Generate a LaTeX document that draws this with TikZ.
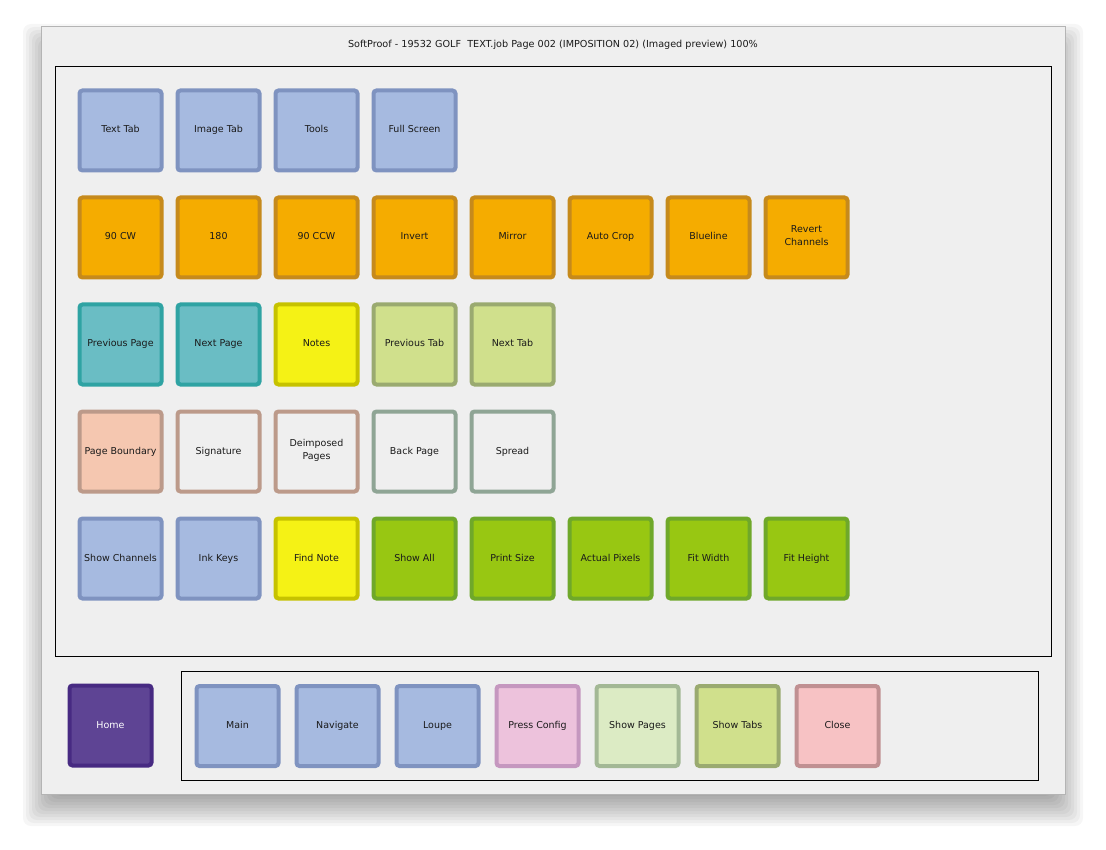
\documentclass[tikz,border=0pt]{standalone}
\usepackage{fontspec}
\setmainfont{DejaVu Sans}

\definecolor{txt}{HTML}{1A1A1A}
\definecolor{winfill}{HTML}{EFEFEF}
\definecolor{winline}{HTML}{B4B4B4}
\definecolor{bluefill}{HTML}{A6BAE0}
\definecolor{blueline}{HTML}{7F93C0}
\definecolor{orangefill}{HTML}{F5AC00}
\definecolor{orangeline}{HTML}{C68A1C}
\definecolor{tealfill}{HTML}{6ABDC4}
\definecolor{tealline}{HTML}{2FA3A3}
\definecolor{yellowfill}{HTML}{F5F215}
\definecolor{yellowline}{HTML}{C6C200}
\definecolor{limefill}{HTML}{D0E08C}
\definecolor{limeline}{HTML}{9AAA70}
\definecolor{peachfill}{HTML}{F5C7B0}
\definecolor{brownline}{HTML}{BC9A8A}
\definecolor{sageline}{HTML}{8FA595}
\definecolor{greenfill}{HTML}{98C712}
\definecolor{greenline}{HTML}{6FA82A}
\definecolor{homefill}{HTML}{5E4494}
\definecolor{homeline}{HTML}{472A82}
\definecolor{pinkfill}{HTML}{EDC2DC}
\definecolor{pinkline}{HTML}{C597BF}
\definecolor{palefill}{HTML}{DCEBC4}
\definecolor{paleline}{HTML}{A3B895}
\definecolor{rosefill}{HTML}{F7C2C4}
\definecolor{roseline}{HTML}{C09092}

\tikzset{
  btn/.style={line width=4pt, rounded corners=3pt, minimum width=82pt,
    minimum height=80pt, align=center, text=txt,
    font=\fontsize{9.5}{12.5}\selectfont,
    execute at begin node=\strut, execute at end node=\strut},
  bluebtn/.style={btn, fill=bluefill, draw=blueline},
  orangebtn/.style={btn, fill=orangefill, draw=orangeline},
  tealbtn/.style={btn, fill=tealfill, draw=tealline},
  yellowbtn/.style={btn, fill=yellowfill, draw=yellowline},
  limebtn/.style={btn, fill=limefill, draw=limeline},
  peachbtn/.style={btn, fill=peachfill, draw=brownline},
  brownbtn/.style={btn, fill=winfill, draw=brownline},
  sagebtn/.style={btn, fill=winfill, draw=sageline},
  greenbtn/.style={btn, fill=greenfill, draw=greenline},
  homebtn/.style={btn, fill=homefill, draw=homeline, text=white},
  pinkbtn/.style={btn, fill=pinkfill, draw=pinkline},
  palebtn/.style={btn, fill=palefill, draw=paleline},
  rosebtn/.style={btn, fill=rosefill, draw=roseline}
}

\begin{document}
\begin{tikzpicture}[x=1pt, y=-1pt]
  \fill[white] (0,0) rectangle (1106,850);
  \useasboundingbox (0,0) rectangle (1106,850);
  % window and its shadow
  \foreach \e in {18,15,...,-18}
    \fill[black, opacity=0.035, rounded corners=8pt]
      (41-\e,26+16-\e) rectangle (1065+\e,794+14+\e);
  \draw[winline, fill=winfill] (41,26) rectangle (1065,794);
  \node[text=txt, font=\fontsize{9.65}{11}\selectfont] (title) at (553,45)
    {SoftProof - 19532 GOLF\ \ TEXT.job Page 002 (IMPOSITION 02) (Imaged preview) 100\%};
  \draw[black, line width=0.8pt] (55,66) rectangle (1051,656);
  \draw[black, line width=0.8pt] (181,671) rectangle (1038,780);

  % row 1
  \node[bluebtn] (textTab) at (120.5,130.5) {Text Tab};
  \node[bluebtn] (imageTab) at (218.5,130.5) {Image Tab};
  \node[bluebtn] (tools) at (316.5,130.5) {Tools};
  \node[bluebtn] (fullScreen) at (414.5,130.5) {Full Screen};
  % row 2
  \node[orangebtn] (cw) at (120.5,237.5) {90 CW};
  \node[orangebtn] (oneEighty) at (218.5,237.5) {180};
  \node[orangebtn] (ccw) at (316.5,237.5) {90 CCW};
  \node[orangebtn] (invert) at (414.5,237.5) {Invert};
  \node[orangebtn] (mirror) at (512.5,237.5) {Mirror};
  \node[orangebtn] (autoCrop) at (610.5,237.5) {Auto Crop};
  \node[orangebtn] (blueline) at (708.5,237.5) {Blueline};
  \node[orangebtn] (revert) at (806.5,237.5) {Revert\\Channels};
  % row 3
  \node[tealbtn] (prevPage) at (120.5,344.5) {Previous Page};
  \node[tealbtn] (nextPage) at (218.5,344.5) {Next Page};
  \node[yellowbtn] (notes) at (316.5,344.5) {Notes};
  \node[limebtn] (prevTab) at (414.5,344.5) {Previous Tab};
  \node[limebtn] (nextTab) at (512.5,344.5) {Next Tab};
  % row 4
  \node[peachbtn] (boundary) at (120.5,451.5) {Page Boundary};
  \node[brownbtn] (signature) at (218.5,451.5) {Signature};
  \node[brownbtn] (deimposed) at (316.5,451.5) {Deimposed\\Pages};
  \node[sagebtn] (backPage) at (414.5,451.5) {Back Page};
  \node[sagebtn] (spread) at (512.5,451.5) {Spread};
  % row 5
  \node[bluebtn] (showChannels) at (120.5,558.5) {Show Channels};
  \node[bluebtn] (inkKeys) at (218.5,558.5) {Ink Keys};
  \node[yellowbtn] (findNote) at (316.5,558.5) {Find Note};
  \node[greenbtn] (showAll) at (414.5,558.5) {Show All};
  \node[greenbtn] (printSize) at (512.5,558.5) {Print Size};
  \node[greenbtn] (actualPixels) at (610.5,558.5) {Actual Pixels};
  \node[greenbtn] (fitWidth) at (708.5,558.5) {Fit Width};
  \node[greenbtn] (fitHeight) at (806.5,558.5) {Fit Height};

  % bottom bar
  \node[homebtn] (home) at (110.5,725.5) {Home};
  \node[bluebtn] (main) at (237.5,726) {Main};
  \node[bluebtn] (navigate) at (337.5,726) {Navigate};
  \node[bluebtn] (loupe) at (437.5,726) {Loupe};
  \node[pinkbtn] (pressConfig) at (537.5,726) {Press Config};
  \node[palebtn] (showPages) at (637.5,726) {Show Pages};
  \node[limebtn] (showTabs) at (737.5,726) {Show Tabs};
  \node[rosebtn] (close) at (837.5,726) {Close};
\end{tikzpicture}
\end{document}
